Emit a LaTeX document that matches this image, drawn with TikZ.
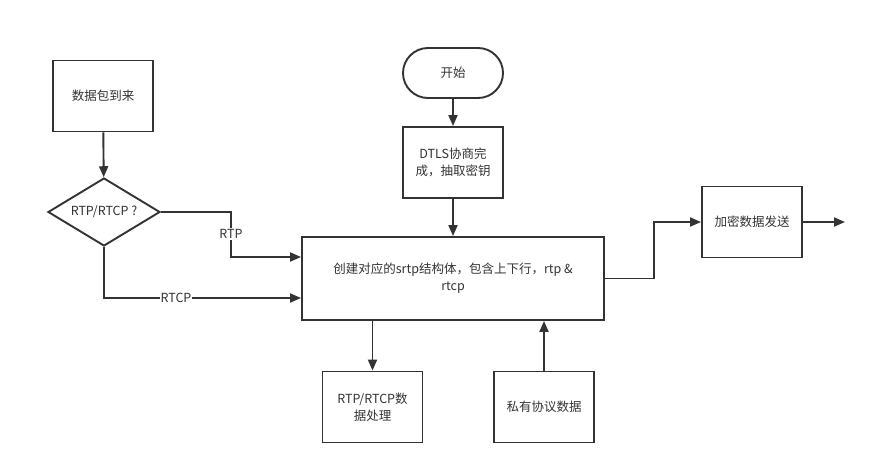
\documentclass[tikz,border=0pt]{standalone}
\usepackage{fontspec}
\setmainfont{Noto Sans CJK SC}
\usetikzlibrary{shapes.geometric,arrows.meta}
\definecolor{ink}{HTML}{333333}
\begin{document}
\begin{tikzpicture}[x=1pt,y=-1pt,>={Triangle[length=11pt,width=9pt]},line width=1.9pt,
  every node/.style={text=ink,font=\fontsize{12.5}{17}\selectfont},
  proc/.style={draw=ink,rectangle,minimum width=100pt,minimum height=71pt,align=center,inner sep=0pt},
  start/.style={draw=ink,rectangle,rounded corners=25pt,minimum width=100pt,minimum height=50pt},
  cond/.style={draw=ink,diamond,aspect=1.65,minimum width=112pt,minimum height=68pt,inner sep=0pt},
  line/.style={draw=ink,->},
  lbl/.style={fill=white,inner sep=1pt}]
\useasboundingbox[fill=white] (0,0) rectangle (874,474);
\node[proc] (arrive) at (103,96) {数据包到来};
\node[cond] (which) at (104,212) {RTP/RTCP ?};
\node[start] (begin) at (453,73) {开始};
\node[proc] (dtls) at (453,162.5) {DTLS协商完\\成，抽取密钥};
\node[proc,minimum width=302pt,minimum height=83pt] (srtp) at (453,278.5) {创建对应的srtp结构体，包含上下行，rtp \&\\rtcp};
\node[proc] (send) at (752,222) {加密数据发送};
\node[proc] (handle) at (372.5,407) {RTP/RTCP数\\据处理};
\node[proc] (priv) at (544,407) {私有协议数据};
\coordinate (out) at (845,222);
\draw[line] (arrive) -- (which);
\draw[line] (begin) -- (dtls);
\draw[line] (dtls) -- (srtp);
\draw[line] (which.east) -- (231,212) -- (231,257) -- (srtp.west |- 0,257);
\node[lbl] at (231,234) {RTP};
\draw[line] (which.south) -- (104,298) -- (srtp.west |- 0,298);
\node[lbl] at (176,298) {RTCP};
\draw[line] (srtp.east) -- (654,278.5) -- (654,222) -- (send.west);
\draw[line] (send.east) -- (out);
\draw[line] (srtp.south -| handle.north) -- (handle.north);
\draw[line] (priv.north) -- (srtp.south -| priv.north);
\end{tikzpicture}
\end{document}
